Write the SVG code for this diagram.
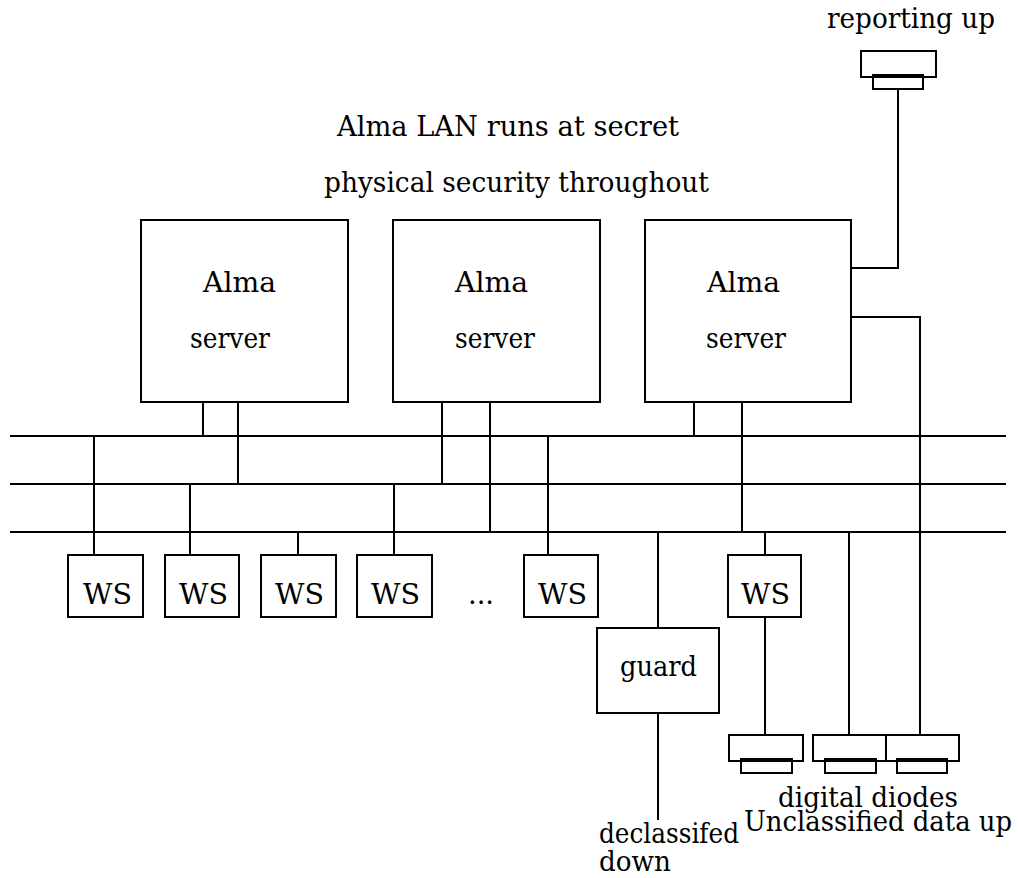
<svg xmlns="http://www.w3.org/2000/svg" width="1019" height="878" viewBox="0 0 1019 878">
<style>
.box{fill:none;stroke:#000;stroke-width:2}
.ln{fill:none;stroke:#000;stroke-width:2}
text{font-family:'DejaVu Serif','Liberation Serif',serif;font-size:28px;fill:#000}
</style>
<rect width="1019" height="878" fill="#fff"/>
<g id="labels">
<text x="827" y="28" textLength="168" lengthAdjust="spacingAndGlyphs">reporting up</text>
<text x="337" y="136" textLength="342" lengthAdjust="spacingAndGlyphs">Alma LAN runs at secret</text>
<text x="324" y="192" textLength="385" lengthAdjust="spacingAndGlyphs">physical security throughout</text>
<text x="468" y="604" textLength="26" lengthAdjust="spacingAndGlyphs">...</text>
<text x="778" y="807" textLength="180" lengthAdjust="spacingAndGlyphs">digital diodes</text>
<text x="744" y="831" textLength="268" lengthAdjust="spacingAndGlyphs">Unclassified data up</text>
<text x="599" y="843" textLength="140" lengthAdjust="spacingAndGlyphs">declassifed</text>
<text x="599" y="871" textLength="72" lengthAdjust="spacingAndGlyphs">down</text>
</g>
<g id="connectors">
<path class="ln" d="M10 436H1006M10 484H1006M10 532H1006"/>
<path class="ln" d="M203 402V436M238 402V484"/>
<path class="ln" d="M442 402V484M490 402V532"/>
<path class="ln" d="M694 402V436M742 402V532"/>
<path class="ln" d="M851 268H898V89"/>
<path class="ln" d="M851 317H920V736"/>
<path class="ln" d="M94 436V555M190 484V555M298 532V555M394 484V555M548 436V555M765 532V555"/>
<path class="ln" d="M765 617V736"/>
<path class="ln" d="M658 532V628M658 713V820"/>
<path class="ln" d="M849 532V736"/>
</g>
<g id="server1"><rect class="box" x="141" y="220" width="207" height="182"/>
<text x="203" y="292" textLength="73" lengthAdjust="spacingAndGlyphs">Alma</text>
<text x="190" y="348" textLength="80" lengthAdjust="spacingAndGlyphs">server</text></g>
<g id="server2"><rect class="box" x="393" y="220" width="207" height="182"/>
<text x="455" y="292" textLength="73" lengthAdjust="spacingAndGlyphs">Alma</text>
<text x="455" y="348" textLength="80" lengthAdjust="spacingAndGlyphs">server</text></g>
<g id="server3"><rect class="box" x="645" y="220" width="206" height="182"/>
<text x="707" y="292" textLength="73" lengthAdjust="spacingAndGlyphs">Alma</text>
<text x="706" y="348" textLength="80" lengthAdjust="spacingAndGlyphs">server</text></g>
<g id="ws1"><rect class="box" x="68" y="555" width="75" height="62"/><text x="83" y="604" textLength="49" lengthAdjust="spacingAndGlyphs">WS</text></g>
<g id="ws2"><rect class="box" x="165" y="555" width="74" height="62"/><text x="179" y="604" textLength="49" lengthAdjust="spacingAndGlyphs">WS</text></g>
<g id="ws3"><rect class="box" x="261" y="555" width="75" height="62"/><text x="275" y="604" textLength="49" lengthAdjust="spacingAndGlyphs">WS</text></g>
<g id="ws4"><rect class="box" x="357" y="555" width="75" height="62"/><text x="371" y="604" textLength="49" lengthAdjust="spacingAndGlyphs">WS</text></g>
<g id="ws5"><rect class="box" x="524" y="555" width="74" height="62"/><text x="538" y="604" textLength="49" lengthAdjust="spacingAndGlyphs">WS</text></g>
<g id="ws6"><rect class="box" x="728" y="555" width="73" height="62"/><text x="741" y="604" textLength="49" lengthAdjust="spacingAndGlyphs">WS</text></g>
<g id="guard"><rect class="box" x="597" y="628" width="122" height="85"/><text x="620" y="676" textLength="77" lengthAdjust="spacingAndGlyphs">guard</text></g>
<g id="diode-top"><rect class="box" x="861" y="51" width="75" height="26"/><rect class="box" x="873" y="75" width="50" height="14"/></g>
<g id="diode1"><rect class="box" x="729" y="735" width="74" height="26"/><rect class="box" x="741" y="759" width="51" height="14"/></g>
<g id="diode2"><rect class="box" x="813" y="735" width="73" height="26"/><rect class="box" x="825" y="759" width="51" height="14"/></g>
<g id="diode3"><rect class="box" x="886" y="735" width="73" height="26"/><rect class="box" x="897" y="759" width="50" height="14"/></g>
</svg>
